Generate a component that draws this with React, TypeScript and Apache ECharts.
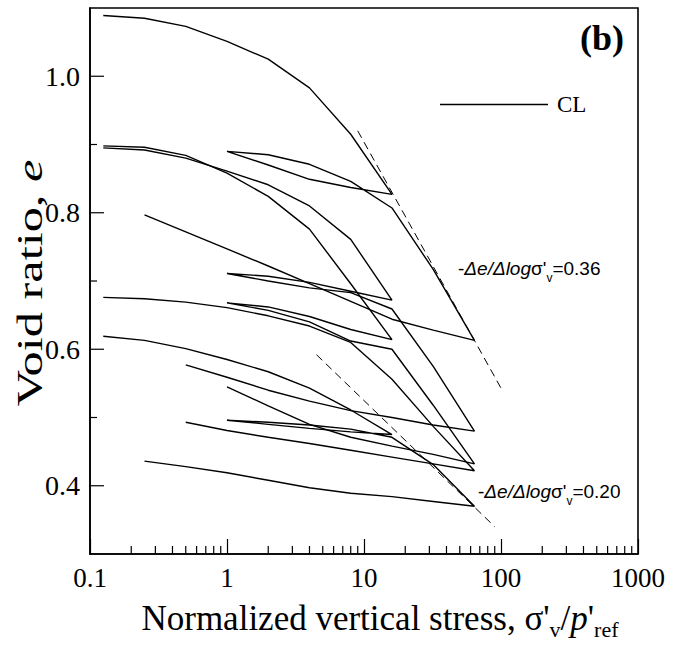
import React, { useEffect, useRef } from 'react';
import * as echarts from 'echarts';

const SERIF = '"Liberation Serif", "Times New Roman", serif';
const SANS = '"Liberation Sans", Arial, sans-serif';

// Sample paths (load -> unload -> reload -> unload), normalized stress and void ratio
const s1Stress = [0.125, 0.25, 0.5, 1, 2, 4, 8, 16, 8, 4, 2, 1, 2, 4, 8, 16, 32, 64, 32, 16, 8, 4, 2, 1, 0.5, 0.25];
const s1Void = [1.089, 1.085, 1.073, 1.051, 1.025, 0.983, 0.915, 0.827, 0.837, 0.849, 0.87, 0.89, 0.885, 0.871, 0.846, 0.807, 0.717, 0.613, 0.628, 0.644, 0.67, 0.696, 0.722, 0.747, 0.772, 0.797];

const s2Stress = [0.125, 0.25, 0.5, 1, 2, 4, 8, 16, 8, 4, 2, 1, 2, 4, 8, 16, 32, 64, 32, 16, 8, 4, 2, 1, 0.5];
const s2Void = [0.895, 0.892, 0.88, 0.861, 0.841, 0.81, 0.761, 0.672, 0.685, 0.698, 0.707, 0.711, 0.7, 0.69, 0.683, 0.659, 0.575, 0.48, 0.489, 0.5, 0.51, 0.524, 0.54, 0.559, 0.577];

const s3Stress = [0.125, 0.25, 0.5, 1, 2, 4, 8, 16, 8, 4, 2, 1, 2, 4, 8, 16, 32, 64, 32, 16, 8, 4, 2, 1];
const s3Void = [0.898, 0.896, 0.884, 0.858, 0.824, 0.776, 0.696, 0.614, 0.629, 0.648, 0.662, 0.668, 0.657, 0.64, 0.612, 0.6, 0.518, 0.432, 0.446, 0.458, 0.471, 0.49, 0.517, 0.545];

const s4Stress = [0.125, 0.25, 0.5, 1, 2, 4, 8, 16, 32, 64, 32, 16, 8, 4, 2, 1, 0.5];
const s4Void = [0.676, 0.674, 0.669, 0.661, 0.649, 0.634, 0.61, 0.556, 0.487, 0.422, 0.432, 0.442, 0.452, 0.462, 0.471, 0.481, 0.493];

const s5Stress = [0.125, 0.25, 0.5, 1, 2, 4, 8, 16, 8, 4, 2, 1, 2, 4, 8, 16, 32, 64, 32, 16, 8, 4, 2, 1, 0.5, 0.25];
const s5Void = [0.619, 0.613, 0.601, 0.585, 0.567, 0.543, 0.511, 0.475, 0.479, 0.484, 0.49, 0.496, 0.493, 0.489, 0.483, 0.471, 0.431, 0.37, 0.377, 0.384, 0.389, 0.397, 0.408, 0.419, 0.428, 0.436];

// Compression lines (dashed)
const cl36Stress = [9, 100];
const cl36Void = [0.92, 0.543];
const cl20Stress = [4.5, 90];
const cl20Void = [0.592, 0.34];

// Tick values
const xMinorTicks = [0.2, 0.3, 0.4, 0.5, 0.6, 0.7, 0.8, 0.9, 2, 3, 4, 5, 6, 7, 8, 9, 20, 30, 40, 50, 60, 70, 80, 90, 200, 300, 400, 500, 600, 700, 800, 900];
const yMajorTicks = [0.4, 0.6, 0.8, 1.0];
const yMinorTicks = [0.5, 0.7, 0.9];

const zip = (xs: number[], ys: number[]) => xs.map((x, i) => [x, ys[i]]);

export default function App() {
  const ref = useRef<HTMLDivElement>(null);
  useEffect(() => {
    if (!ref.current) return;
    const chart = echarts.init(ref.current, null, { renderer: 'svg' });
    const lineSeries = (data: number[][]) => ({
      type: 'line',
      name: 'CL',
      data,
      symbol: 'none',
      lineStyle: { color: '#000', width: 1.4 },
      itemStyle: { color: '#000' },
      z: 3,
    });
    const dashSeries = (data: number[][]) => ({
      type: 'line',
      name: 'dash',
      data,
      symbol: 'none',
      lineStyle: { color: '#000', width: 1, type: [8, 5] },
      z: 2,
    });
    const tickStyle = { stroke: '#000', lineWidth: 1.2 };
    const subRich = {
      n: { fontFamily: SANS, fontSize: 19, lineHeight: 21, verticalAlign: 'top', color: '#000' },
      i: { fontFamily: SANS, fontSize: 19, fontStyle: 'italic', lineHeight: 21, verticalAlign: 'top', color: '#000' },
      s: { fontFamily: SANS, fontSize: 12, lineHeight: 12, padding: [13, 0, 0, 0], verticalAlign: 'top', color: '#000' },
    };
    chart.setOption({
      animation: false,
      backgroundColor: '#fff',
      grid: { left: 90, top: 8, width: 548, height: 546, show: true, borderColor: '#000', borderWidth: 1.6, backgroundColor: 'transparent' },
      legend: {
        data: [{ name: 'CL', icon: 'rect' }],
        left: 435,
        top: 88,
        itemWidth: 108,
        itemHeight: 1.5,
        itemStyle: { color: '#000' },
        textStyle: { fontFamily: SERIF, fontSize: 23, color: '#000', padding: [0, 0, 0, 4] },
        selectedMode: false,
      },
      xAxis: {
        type: 'log',
        logBase: 10,
        min: 0.1,
        max: 1000,
        axisLine: { show: true, lineStyle: { color: '#000', width: 1.6 } },
        axisTick: { show: true, inside: true, length: 15, lineStyle: { color: '#000', width: 1.2 } },
        axisLabel: { fontFamily: SERIF, fontSize: 27, color: '#000', margin: 10, formatter: (v: number) => String(v) },
        splitLine: { show: false },
        minorTick: { show: false },
      },
      yAxis: {
        type: 'value',
        min: 0.3,
        max: 1.1,
        interval: 0.1,
        axisLine: { show: true, lineStyle: { color: '#000', width: 1.6 } },
        axisTick: { show: false },
        axisLabel: {
          fontFamily: SERIF,
          fontSize: 28,
          color: '#000',
          margin: 10,
          formatter: (v: number) => (Math.round(v * 10) % 2 === 0 ? v.toFixed(1) : ''),
        },
        splitLine: { show: false },
      },
      series: [
        lineSeries(zip(s1Stress, s1Void)),
        lineSeries(zip(s2Stress, s2Void)),
        lineSeries(zip(s3Stress, s3Void)),
        lineSeries(zip(s4Stress, s4Void)),
        lineSeries(zip(s5Stress, s5Void)),
        dashSeries(zip(cl36Stress, cl36Void)),
        dashSeries(zip(cl20Stress, cl20Void)),
        {
          type: 'custom',
          name: 'xminor',
          clip: false,
          data: xMinorTicks.map((v) => [v, 0.3]),
          renderItem: (_p: any, api: any) => {
            const p = api.coord([api.value(0), api.value(1)]);
            return { type: 'line', shape: { x1: p[0], y1: p[1], x2: p[0], y2: p[1] - 8 }, style: tickStyle };
          },
        },
        {
          type: 'custom',
          name: 'yticks',
          clip: false,
          data: [...yMajorTicks.map((v) => [0.1, v, 14]), ...yMinorTicks.map((v) => [0.1, v, 7])],
          renderItem: (_p: any, api: any) => {
            const p = api.coord([api.value(0), api.value(1)]);
            return { type: 'line', shape: { x1: p[0], y1: p[1], x2: p[0] + api.value(2), y2: p[1] }, style: tickStyle };
          },
        },
      ],
      graphic: [
        {
          type: 'text',
          style: { text: '(b)', x: 602, y: 38, fontFamily: SERIF, fontSize: 36, fontWeight: 'bold', fill: '#000', textAlign: 'center', textVerticalAlign: 'middle' },
        },
        {
          type: 'text',
          style: { text: "{n|-}{i|Δe/Δlog}{n|σ'}{s|v}{n|=0.36}", x: 458, y: 259, rich: subRich, fill: '#000' },
        },
        {
          type: 'text',
          style: { text: "{n|-}{i|Δe/Δlog}{n|σ'}{s|v}{n|=0.20}", x: 478, y: 482, rich: subRich, fill: '#000' },
        },
        {
          type: 'text',
          style: {
            text: "{n|Normalized vertical stress, σ'}{s|v}{n|/}{i|p}{n|'}{s|ref}",
            x: 380,
            y: 601,
            textAlign: 'center',
            rich: {
              n: { fontFamily: SERIF, fontSize: 35, lineHeight: 37, verticalAlign: 'top', color: '#000' },
              i: { fontFamily: SERIF, fontSize: 35, fontStyle: 'italic', lineHeight: 37, verticalAlign: 'top', color: '#000' },
              s: { fontFamily: SERIF, fontSize: 22, lineHeight: 20, padding: [17, 0, 0, 0], verticalAlign: 'top', color: '#000' },
            },
          },
        },
        {
          type: 'text',
          x: 30,
          y: 283,
          rotation: Math.PI / 2,
          scaleX: 1.4,
          style: {
            text: '{n|Void ratio, }{i|e}',
            x: 0,
            y: 0,
            textAlign: 'center',
            textVerticalAlign: 'middle',
            rich: {
              n: { fontFamily: SERIF, fontSize: 36, color: '#000' },
              i: { fontFamily: SERIF, fontSize: 36, fontStyle: 'italic', color: '#000' },
            },
          },
        },
      ],
    });
    return () => chart.dispose();
  }, []);
  return <div ref={ref} style={{ position: 'fixed', left: 0, top: 0, width: 681, height: 647, background: '#fff' }} />;
}
